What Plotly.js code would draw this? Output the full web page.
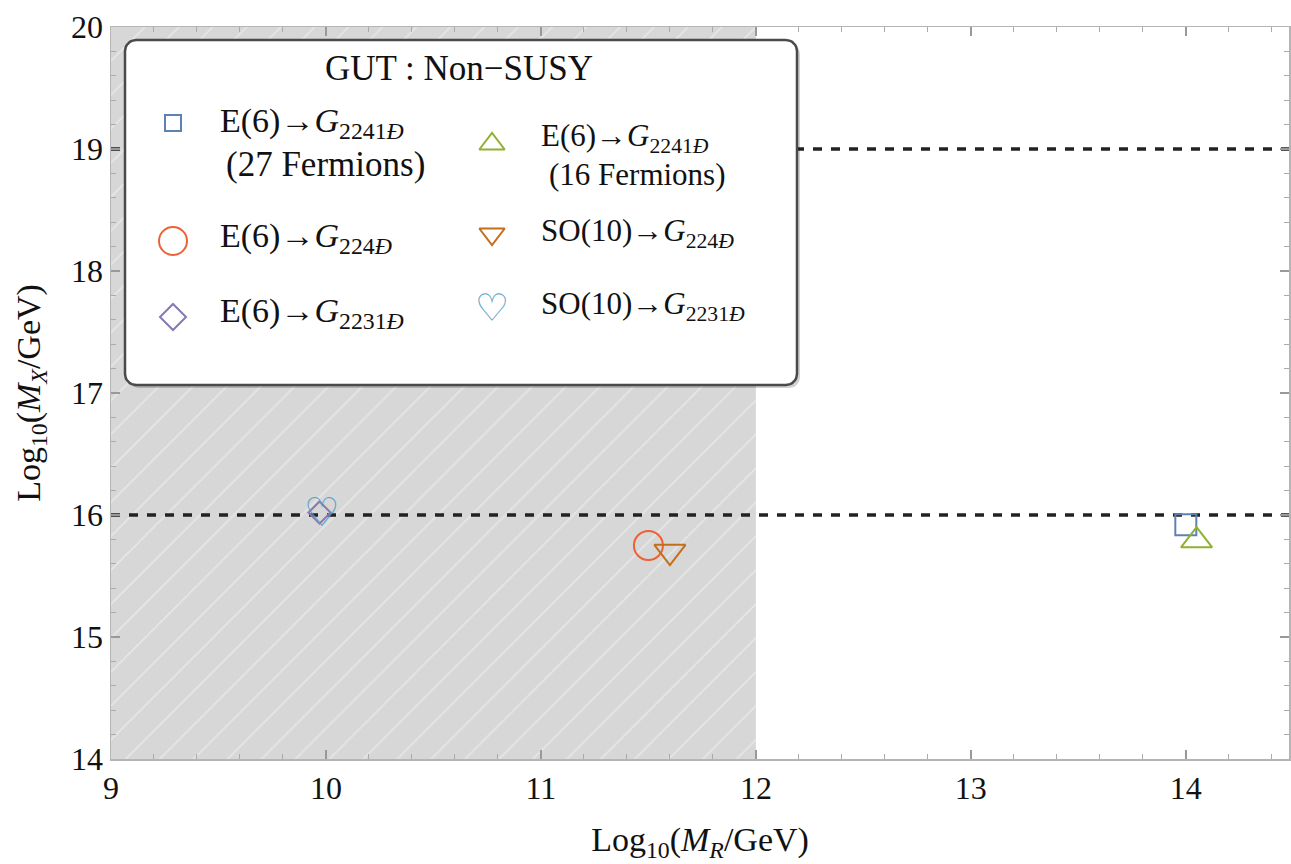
<!DOCTYPE html>
<html>
<head>
<meta charset="utf-8">
<script src="https://cdn.plot.ly/plotly-3.0.1.min.js"></script>
<style>html,body{margin:0;padding:0;background:#fff}#chart{width:1291px;height:864px}</style>
</head>
<body>
<div id="chart"></div>
<script>
// ---- data ----
const seriesNames = [
  "E(6)→G2241D (27 Fermions)", "E(6)→G224D", "E(6)→G2231D",
  "E(6)→G2241D (16 Fermions)", "SO(10)→G224D", "SO(10)→G2231D"
];
const logMR = [14.0, 11.5, 9.97, 14.05, 11.6, 9.98];
const logMX = [15.92, 15.75, 16.02, 15.79, 15.7, 16.05];
const seriesColors = ["#5E81B5", "#EB6235", "#8778B3", "#8FB032", "#C56E1A", "#5D9EC7"];
const seriesSymbols = ["square-open", "circle-open", "diamond-open", "triangle-up-open", "triangle-down-open", "heart"];
const xTicks = [9, 10, 11, 12, 13, 14];
const yTicks = [14, 15, 16, 17, 18, 19, 20];
const xRange = [9, 14.48];
const yRange = [14, 20];
const shadedMR = [9, 12];
const refLinesMX = [16, 19];

// ---- layout constants ----
const W = 1291, H = 864;
const M = {l: 111, r: 2, t: 27, b: 105};
const FONT = "Liberation Serif";

// heart glyph as text; outer size chosen so the glyph is vertically centred on the point
const heartText = g => "<span style=\"font-size:" + g + "px\">♡</span>";

const traces = [];
// shaded region
traces.push({
  x: [shadedMR[0], shadedMR[1], shadedMR[1], shadedMR[0], shadedMR[0]],
  y: [yRange[0], yRange[0], yRange[1], yRange[1], yRange[0]],
  mode: "lines", fill: "toself", fillcolor: "#d7d7d7",
  fillpattern: {shape: "/", bgcolor: "#d7d7d7", fgcolor: "#e6e6e6", size: 24, solidity: 0.07},
  line: {width: 0}, hoverinfo: "skip", showlegend: false
});
// reference lines
refLinesMX.forEach(v => traces.push({
  x: [xRange[0], xRange[1]], y: [v, v], mode: "lines",
  line: {color: "#222", width: 3.5, dash: "9px,9px"}, hoverinfo: "skip", showlegend: false
}));
// data markers
const plotSizes = [21, 29, 17, 27, 27, 40];
seriesNames.forEach((n, i) => {
  if (seriesSymbols[i] === "heart") {
    traces.push({x: [logMR[i]], y: [logMX[i]], mode: "text", text: [heartText(plotSizes[i])], name: n,
      textfont: {family: "DejaVu Sans", size: Math.round(plotSizes[i] * 1.71), color: seriesColors[i], weight: "bold"},
      textposition: "middle center", cliponaxis: false, showlegend: false});
  } else {
    traces.push({x: [logMR[i]], y: [logMX[i]], mode: "markers", name: n,
      marker: {symbol: seriesSymbols[i], size: plotSizes[i], color: seriesColors[i], line: {width: 2, color: seriesColors[i]}},
      cliponaxis: false, showlegend: false});
  }
});

// ---- custom legend box (overlay axes in pixel coords) ----
function roundRect(x0, y0, x1, y1, r) {
  const xs = [], ys = [];
  const corners = [[x1 - r, y0 + r, -90], [x1 - r, y1 - r, 0], [x0 + r, y1 - r, 90], [x0 + r, y0 + r, 180]];
  corners.forEach(c => {
    for (let k = 0; k <= 8; k++) {
      const a = (c[2] + k * 90 / 8) * Math.PI / 180;
      xs.push(c[0] + r * Math.cos(a)); ys.push(c[1] + r * Math.sin(a));
    }
  });
  xs.push(xs[0]); ys.push(ys[0]);
  return {xs, ys};
}
const box = {x0: 125, y0: 40, x1: 797, y1: 385};
const sh = roundRect(box.x0 + 3, box.y0 + 3, box.x1 + 3, box.y1 + 3, 11);
traces.push({x: sh.xs, y: sh.ys, xaxis: "x2", yaxis: "y2", mode: "lines", fill: "toself",
  fillcolor: "rgba(0,0,0,0.18)", line: {width: 0}, hoverinfo: "skip", showlegend: false});
const bx = roundRect(box.x0, box.y0, box.x1, box.y1, 11);
traces.push({x: bx.xs, y: bx.ys, xaxis: "x2", yaxis: "y2", mode: "lines", fill: "toself",
  fillcolor: "#ffffff", line: {width: 2.5, color: "#4a4a4a"}, hoverinfo: "skip", showlegend: false});

const legX = [173, 173, 173, 492, 492, 492];
const legY = [123, 241, 317, 144, 234, 305];
const legSizes = [16, 28, 20, 22, 22, 38];
seriesNames.forEach((n, i) => {
  if (seriesSymbols[i] === "heart") {
    traces.push({x: [legX[i]], y: [legY[i]], xaxis: "x2", yaxis: "y2", mode: "text", text: [heartText(legSizes[i])],
      textfont: {family: "DejaVu Sans", size: Math.round(legSizes[i] * 1.71), color: seriesColors[i], weight: "bold"},
      textposition: "middle center", cliponaxis: false, hoverinfo: "skip", showlegend: false});
  } else {
    traces.push({x: [legX[i]], y: [legY[i]], xaxis: "x2", yaxis: "y2", mode: "markers",
      marker: {symbol: seriesSymbols[i], size: legSizes[i], color: seriesColors[i], line: {width: 2, color: seriesColors[i]}},
      cliponaxis: false, hoverinfo: "skip", showlegend: false});
  }
});

const G = s => "E(6)→<i>G</i><sub>" + s + "<i>Ð</i></sub>";
const GS = s => "SO(10)→<i>G</i><sub>" + s + "<i>Ð</i></sub>";
const legTexts = [
  {t: "GUT : Non−SUSY", x: 459, y: 68, anchor: "center", size: 35},
  {t: G("2241"), x: 218, y: 123, anchor: "left", size: 34},
  {t: "(27 Fermions)", x: 224, y: 164, anchor: "left", size: 35},
  {t: G("224"), x: 218, y: 238, anchor: "left", size: 34},
  {t: G("2231"), x: 218, y: 313, anchor: "left", size: 34},
  {t: G("2241"), x: 539, y: 138, anchor: "left", size: 31},
  {t: "(16 Fermions)", x: 547, y: 174, anchor: "left", size: 31},
  {t: GS("224"), x: 539, y: 233, anchor: "left", size: 31},
  {t: GS("2231"), x: 539, y: 306, anchor: "left", size: 31}
];
const annotations = legTexts.map(a => ({
  text: a.t, x: a.x, y: a.y, xref: "x2", yref: "y2", xanchor: a.anchor, yanchor: "middle",
  showarrow: false, font: {family: FONT, size: a.size, color: "#111"}
}));

const axisCommon = {
  showgrid: false, zeroline: false, ticks: "inside", ticklen: 9, tickwidth: 1.5, tickcolor: "#999",
  showline: true, linecolor: "#b5b5b5", linewidth: 1.5, mirror: "ticks",
  tickfont: {family: FONT, size: 32, color: "#111"},
  minor: {dtick: 0.2, ticks: "inside", ticklen: 5, tickwidth: 1, tickcolor: "#aaa", showgrid: false}
};

const layout = {
  width: W, height: H, margin: M, paper_bgcolor: "#fff", plot_bgcolor: "#fff", showlegend: false,
  xaxis: Object.assign({}, axisCommon, {range: xRange, tickvals: xTicks, ticktext: xTicks.map(String),
    title: {text: "Log<sub>10</sub>(<i>M<sub>R</sub></i>/GeV)", font: {family: FONT, size: 34, color: "#111"}, standoff: 22}}),
  yaxis: Object.assign({}, axisCommon, {range: yRange, tickvals: yTicks, ticktext: yTicks.map(String),
    title: {text: "Log<sub>10</sub>(<i>M<sub>X</sub></i>/GeV)", font: {family: FONT, size: 34, color: "#111"}, standoff: 20}}),
  xaxis2: {overlaying: "x", range: [M.l, W - M.r], visible: false, fixedrange: true},
  yaxis2: {overlaying: "y", range: [H - M.b, M.t], visible: false, fixedrange: true},
  annotations: annotations
};

Plotly.newPlot("chart", traces, layout, {displayModeBar: false, staticPlot: true});
</script>
</body>
</html>
